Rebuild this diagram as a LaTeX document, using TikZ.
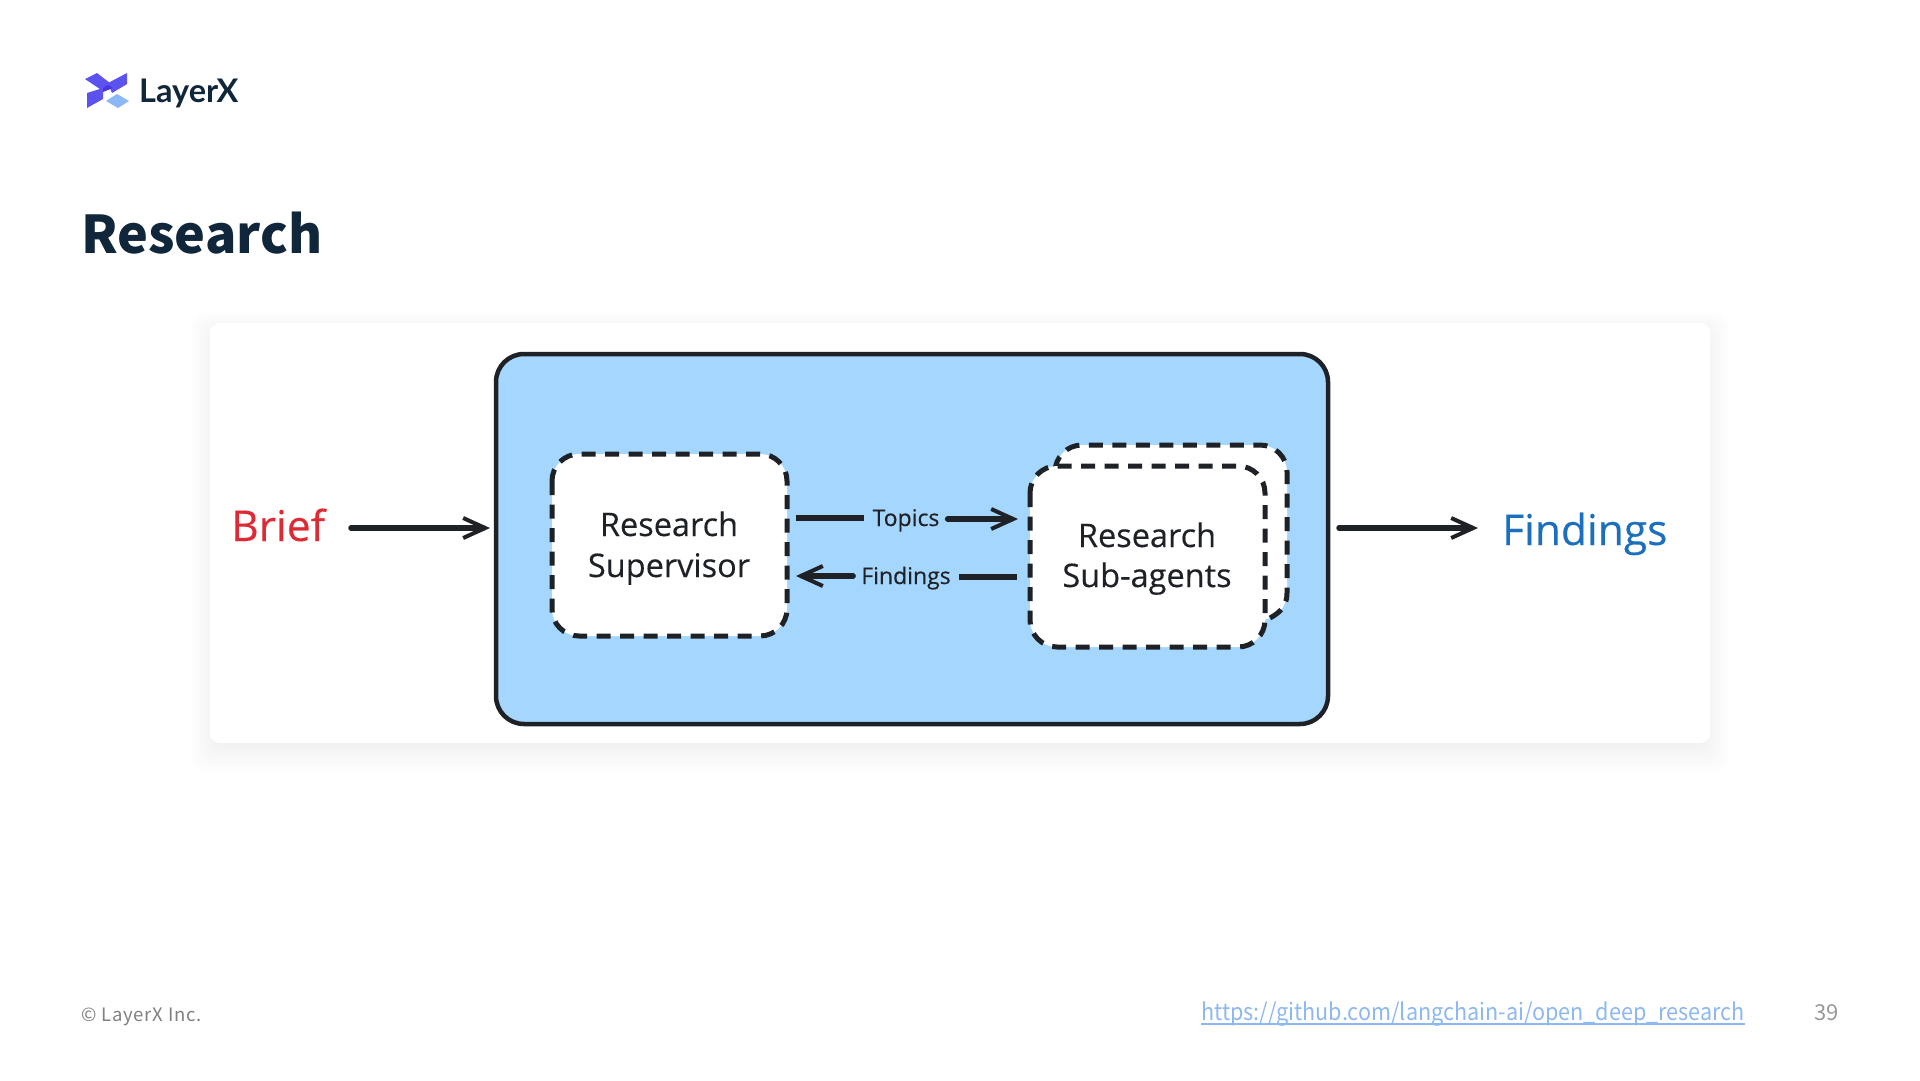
\documentclass[tikz,border=0pt]{standalone}
\usepackage{fontspec}
\usetikzlibrary{arrows.meta}
\setmainfont{Noto Sans CJK JP}
\newfontfamily\diag{Open Sans}[FakeBold=0.25]
\newfontfamily\logofont{Lato}[BoldFont=Lato Bold]
\definecolor{ink}{HTML}{1E2226}
\definecolor{navy}{HTML}{10263A}
\definecolor{boxblue}{HTML}{A5D6FE}
\definecolor{logoA}{HTML}{5B52F0}
\definecolor{logoC}{HTML}{4A35E0}
\definecolor{logoB}{HTML}{8DB8F8}
\definecolor{linkc}{HTML}{8DB8F0}
\definecolor{briefc}{HTML}{DD2A34}
\definecolor{findc}{HTML}{1C6FBC}
\tikzset{
 x=1pt,y=-1pt,
 dia/.style={line width=5.5pt,draw=ink,line cap=round,-{Straight Barb[length=22pt,width=20pt,line width=4pt]}},
 plain/.style={line width=5.5pt,draw=ink},
 dashbox/.style={draw=ink,fill=white,line width=5pt,rounded corners=27pt,dash pattern=on 14pt off 9.5pt},
 dashline/.style={draw=ink,line width=5pt,dash pattern=on 14pt off 9.5pt},
 lab/.style={font=\diag\fontsize{32.5}{33}\selectfont,text=ink,inner sep=0pt,anchor=base},
 small/.style={font=\diag\fontsize{23}{23}\selectfont,text=ink,inner sep=0pt,anchor=base},
 big/.style={font=\diag\fontsize{42.5}{43}\selectfont,inner sep=0pt,anchor=base west},
 foot/.style={inner sep=0pt,anchor=base west},
}
\begin{document}
\begin{tikzpicture}
\useasboundingbox (0,0) rectangle (1920,1080);
\fill[white] (0,0) rectangle (1920,1080);
% logo
\fill[logoA] (85,79) -- (97,73) -- (115,87) -- (103,91) -- cycle;
\fill[logoA] (87,93) -- (103,88) -- (103,99) -- (87,108) -- cycle;
\fill[logoA] (108,83) -- (127,73) -- (127,84) -- (112,93) -- cycle;
\fill[logoC] (103,88) -- (108,85) -- (113,88) -- (103,92) -- cycle;
\fill[logoB] (106,101) -- (117,94) -- (129,101) -- (118,108) -- cycle;
\node[foot,font=\logofont\bfseries\fontsize{32.5}{33}\selectfont,text=navy] (logo) at (139,102) {LayerX};
\node[foot,font=\bfseries\fontsize{52}{53}\selectfont,text=navy] (title) at (81,253) {Research};
% card with soft shadow
\foreach \r in {-8,-6,...,20}
  \fill[black,opacity=.005,rounded corners=14pt] ({210-\r},{331-\r}) rectangle ({1710+\r},{751+\r});
\fill[white,rounded corners=10pt] (210,323) rectangle (1710,743);
% outer
\draw[ink,fill=boxblue,line width=4.5pt,rounded corners=28pt] (496,354) rectangle (1328,724);
\draw[dashbox] (552,454) rectangle (787,636);
\fill[white,rounded corners=27pt] (1055,445) rectangle (1287,620);
\draw[dashline] (1270,618) .. controls (1281,612) and (1287,605) .. (1287,593) [rounded corners=27pt] -- (1287,445) -- (1055,445) -- (1055,472);
\draw[dashbox] (1030,466) rectangle (1265,647);
\node[lab] (rs1) at (669,536) {Research};
\node[lab] (rs2) at (669,577) {Supervisor};
\node[lab] (ra1) at (1147,547) {Research};
\node[lab] (ra2) at (1147,587) {Sub-agents};
\node[big,text=briefc] (brief) at (231,541) {Brief};
\node[big,text=findc] (find) at (1502,545) {Findings};
\coordinate (b0) at (351,528); \coordinate (b1) at (490,528);
\draw[dia] (b0) -- (b1);
\coordinate (f0) at (1339,528); \coordinate (f1) at (1478,528);
\draw[dia] (f0) -- (f1);
\node[small] (topics) at (906,526) {Topics};
\node[small] (findl) at (906,584) {Findings};
\coordinate (t0) at (796,518); \coordinate (t1) at (1018,519);
\draw[plain] (t0) -- ([xshift=-8pt]topics.west |- t0);
\draw[dia] ([xshift=8pt]topics.east |- t1) -- (t1);
\coordinate (g0) at (1017,577); \coordinate (g1) at (796,576);
\draw[plain] (g0) -- ([xshift=8pt]findl.east |- g0);
\draw[dia] ([xshift=-8pt]findl.west |- g1) -- (g1);
% footer
\node[foot,font=\addfontfeature{LetterSpace=4}\fontsize{18.5}{19}\selectfont,text=black!50] (copy) at (81,1021) {© LayerX Inc.};
\node[foot,font=\addfontfeature{FakeStretch=0.92}\fontsize{23.5}{24}\selectfont,text=linkc] (link) at (1201,1020) {https://github.com/langchain-ai/open\_deep\_research};
\draw[linkc,line width=1.3pt] ([yshift=-4pt]link.base west) -- ([yshift=-4pt]link.base east);
\node[foot,font=\fontsize{22}{22}\selectfont,text=black!40] (page) at (1814,1020) {39};
\end{tikzpicture}
\end{document}
